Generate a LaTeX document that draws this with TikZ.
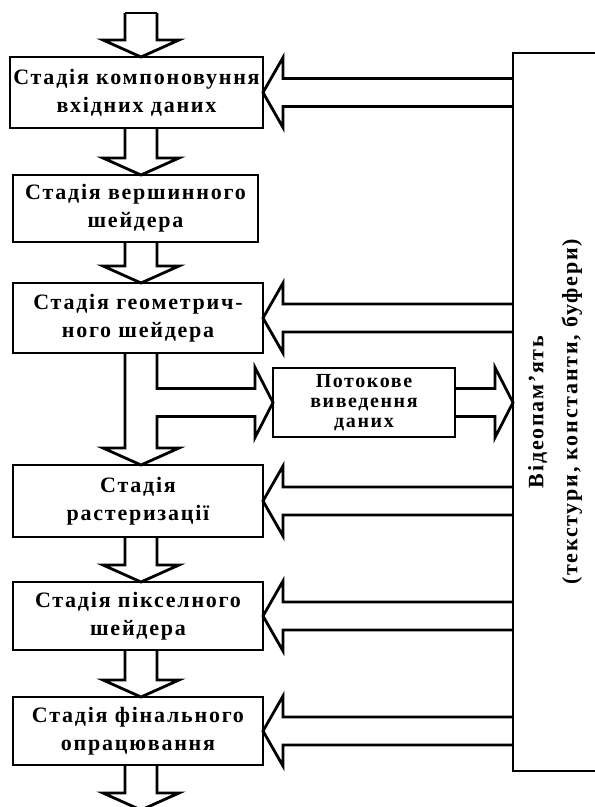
\documentclass[tikz,border=0pt]{standalone}
\usepackage{fontspec}
\setmainfont{Liberation Serif}
\newfontfamily\stagefont[LetterSpace=8]{Liberation Serif}
\usetikzlibrary{calc}

% hollow block arrows, drawn as outlines
\newcommand{\downpipe}[2]{%
  \draw[pipe] ($(#1)+(-16,0)$) -- ($(#2)+(-16,-17)$) -- ($(#2)+(-38,-17)$) -- (#2)
    -- ($(#2)+(38,-17)$) -- ($(#2)+(16,-17)$) -- ($(#1)+(16,0)$);}
\newcommand{\leftpipe}[2]{%
  \draw[pipe] ($(#1)+(0,-14)$) -- ($(#2)+(20,-14)$) -- ($(#2)+(20,-35)$) -- (#2)
    -- ($(#2)+(20,35)$) -- ($(#2)+(20,14)$) -- ($(#1)+(0,14)$);}
\newcommand{\rightpipe}[2]{%
  \draw[pipe] ($(#1)+(0,-14)$) -- ($(#2)+(-18,-14)$) -- ($(#2)+(-18,-35)$) -- (#2)
    -- ($(#2)+(-18,35)$) -- ($(#2)+(-18,14)$) -- ($(#1)+(0,14)$);}

\begin{document}
\begin{tikzpicture}[x=1pt,y=-1pt]
  \tikzset{stagebox/.style={draw,line width=2.8pt,outer sep=0pt,inner sep=0pt,align=center,
             font=\stagefont\bfseries\fontsize{22}{28}\selectfont},
           pipe/.style={line width=2.8pt,line join=miter}}
  \useasboundingbox (0,0) rectangle (595,807);

  % pipeline stages
  \node[stagebox,minimum width=253,minimum height=71] (b1) at (136.5,92.5) {Стадія компоновуння\\вхідних даних};
  \node[stagebox,minimum width=245,minimum height=67] (b2) at (135.5,208.5) {Стадія вершинного\\шейдера};
  \node[stagebox,minimum width=250,minimum height=70] (b3) at (138,318) {Стадія геометрич-\\ного шейдера};
  \node[stagebox,minimum width=182,minimum height=69,
        font=\stagefont\bfseries\fontsize{20}{20}\selectfont] (stream) at (364,402.5) {Потокове\\виведення\\даних};
  \node[stagebox,minimum width=250,minimum height=72] (b4) at (138,501) {Стадія\\растеризації};
  \node[stagebox,minimum width=250,minimum height=68] (b5) at (138,616) {Стадія пікселного\\шейдера};
  \node[stagebox,minimum width=250,minimum height=68] (b6) at (138,731) {Стадія фінального\\опрацювання};

  % video memory, open on the right
  \node[minimum width=92,minimum height=718,outer sep=0pt] (mem) at (559,412) {};
  \draw[pipe] (mem.north east) -- (mem.north west) -- (mem.south west) -- (mem.south east);
  \node[rotate=90,align=center,font=\stagefont\bfseries\fontsize{22}{34}\selectfont] (memtext)
    at ($(mem.center)+(-4,0)$) {Відеопам’ять\\(текстури, константи, буфери)};

  \coordinate (axis) at (141,0);
  \coordinate (in) at (141,13);
  \coordinate (out) at (141,810);

  \downpipe{in}{axis |- b1.north}
  \draw[pipe] ($(in)+(-16,0)$) -- ($(in)+(16,0)$);
  \downpipe{axis |- b1.south}{axis |- b2.north}
  \downpipe{axis |- b2.south}{axis |- b3.north}
  % branch to stream output
  \draw[pipe] ($(axis |- b3.south)+(-16,0)$) -- ($(axis |- b4.north)+(-16,-17)$) -- ($(axis |- b4.north)+(-38,-17)$)
    -- (axis |- b4.north) -- ($(axis |- b4.north)+(38,-17)$) -- ($(axis |- b4.north)+(16,-17)$)
    -- ($(axis |- stream.west)+(16,14)$) -- ($(stream.west)+(-18,14)$) -- ($(stream.west)+(-18,35)$)
    -- (stream.west) -- ($(stream.west)+(-18,-35)$) -- ($(stream.west)+(-18,-14)$)
    -- ($(axis |- stream.west)+(16,-14)$) -- ($(axis |- b3.south)+(16,0)$);
  \downpipe{axis |- b4.south}{axis |- b5.north}
  \downpipe{axis |- b5.south}{axis |- b6.north}
  \downpipe{axis |- b6.south}{out}

  \foreach \b in {b1,b3,b4,b5,b6}
    \leftpipe{mem.west |- \b.east}{\b.east};
  \rightpipe{stream.east}{mem.west |- stream.east}
\end{tikzpicture}
\end{document}
